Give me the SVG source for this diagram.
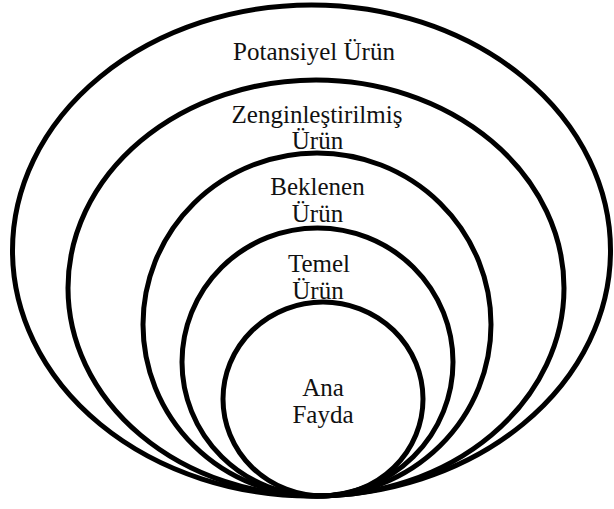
<svg xmlns="http://www.w3.org/2000/svg" width="614" height="509" viewBox="0 0 614 509">
<style>
.ring{fill:none;stroke:#000;stroke-width:5}
text{fill:#111;text-anchor:middle}
</style>
<rect width="614" height="509" fill="#fff"/>
<g id="potansiyel">
<ellipse class="ring" cx="311.5" cy="250.5" rx="299" ry="245.5"/>
<text font-family="Liberation Serif, Times New Roman, serif" font-size="25" x="314" y="60">Potansiyel Ürün</text>
</g>
<g id="zenginlestirilmis">
<ellipse class="ring" cx="316" cy="288" rx="248" ry="208"/>
<text font-family="Liberation Serif, Times New Roman, serif" font-size="25" x="317" y="123">Zenginleştirilmiş</text>
<text font-family="Liberation Serif, Times New Roman, serif" font-size="25" x="317.5" y="149">Ürün</text>
</g>
<g id="beklenen">
<ellipse class="ring" cx="317" cy="324.5" rx="174" ry="171.5"/>
<text font-family="Liberation Serif, Times New Roman, serif" font-size="25" x="317.5" y="195">Beklenen</text>
<text font-family="Liberation Serif, Times New Roman, serif" font-size="25" x="317.5" y="222">Ürün</text>
</g>
<g id="temel">
<ellipse class="ring" cx="317.5" cy="362" rx="135.5" ry="134"/>
<text font-family="Liberation Serif, Times New Roman, serif" font-size="25" x="319" y="272">Temel</text>
<text font-family="Liberation Serif, Times New Roman, serif" font-size="25" x="318" y="299">Ürün</text>
</g>
<g id="ana-fayda">
<ellipse class="ring" cx="323" cy="399" rx="100" ry="97"/>
<text font-family="Liberation Serif, Times New Roman, serif" font-size="25" x="323" y="396">Ana</text>
<text font-family="Liberation Serif, Times New Roman, serif" font-size="25" x="323" y="423">Fayda</text>
</g>
<g id="connectors"></g>
</svg>
